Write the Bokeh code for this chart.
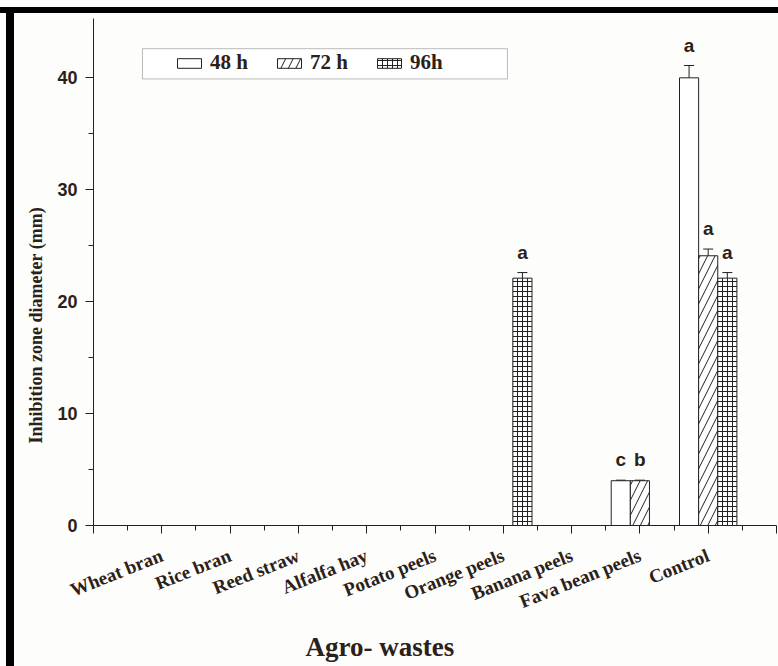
from bokeh.plotting import figure
from bokeh.models import (ColumnDataSource, FixedTicker, Whisker, TeeHead, LabelSet,
                          Legend, LegendItem, BoxAnnotation, Range1d, Title, Div)
from bokeh.layouts import column, row
from bokeh.core.properties import value
from bokeh.embed import file_html
from bokeh.resources import INLINE

# ---------------- data ----------------
categories = ["Wheat bran", "Rice bran", "Reed straw", "Alfalfa hay", "Potato peels",
              "Orange peels", "Banana peels", "Fava bean peels", "Control"]
series = ["48 h", "72 h", "96h"]
v48 = [0, 0, 0, 0, 0, 0, 0, 4.0, 40.0]
v72 = [0, 0, 0, 0, 0, 0, 0, 4.0, 24.1]
v96 = [0, 0, 0, 0, 0, 22.1, 0, 0, 22.1]
e48 = [0, 0, 0, 0, 0, 0, 0, 0.05, 1.1]
e72 = [0, 0, 0, 0, 0, 0, 0, 0.05, 0.6]
e96 = [0, 0, 0, 0, 0, 0.5, 0, 0, 0.5]
l48 = ["", "", "", "", "", "", "", "c", "a"]
l72 = ["", "", "", "", "", "", "", "b", "a"]
l96 = ["", "", "", "", "", "a", "", "", "a"]
y_ticks = [0, 10, 20, 30, 40]
y_minor = [5, 15, 25, 35]
x_title = "Agro- wastes"
y_title = "Inhibition zone diameter (mm)"

# ---------------- style ----------------
BG = "#fdfdfb"
TXT = "#2b2118"
LINE = "#222222"
BAR_W = 0.28
offsets = [-BAR_W, 0.0, BAR_W]

p = figure(width=764, height=653, output_backend="svg", toolbar_location=None,
           x_range=Range1d(0, len(categories) + 1), y_range=Range1d(0, 45.3),
           min_border_left=79, min_border_right=2, min_border_top=5, min_border_bottom=141,
           background_fill_color=BG, border_fill_color=BG, margin=0)
p.grid.visible = False
p.outline_line_alpha = 0

vals = [v48, v72, v96]
errs = [e48, e72, e96]
labs = [l48, l72, l96]
hatches = [None, "/", "+"]
hscale = [12, 15, 5]

renderers = []
for k in range(3):
    xs = [i + 1 + offsets[k] for i in range(len(categories))]
    src = ColumnDataSource(dict(x=xs, top=vals[k]))
    kw = dict(fill_color="white", line_color=LINE, line_width=1)
    if hatches[k]:
        kw.update(hatch_pattern=hatches[k], hatch_scale=hscale[k], hatch_weight=1,
                  hatch_color=LINE)
    r = p.vbar(x="x", top="top", width=BAR_W, source=src, **kw)
    renderers.append(r)

    idx = [i for i in range(len(categories)) if vals[k][i] > 0]
    esrc = ColumnDataSource(dict(
        x=[xs[i] for i in idx],
        upper=[vals[k][i] + errs[k][i] for i in idx],
        lower=[vals[k][i] - errs[k][i] for i in idx],
        lab=[labs[k][i] for i in idx]))
    w = Whisker(source=esrc, base="x", upper="upper", lower="lower",
                line_color=LINE, line_width=1,
                upper_head=TeeHead(size=10, line_color=LINE, line_width=1),
                lower_head=TeeHead(size=10, line_color=LINE, line_width=1))
    p.add_layout(w)
    ls = LabelSet(source=esrc, x="x", y="upper", text="lab", y_offset=14,
                  text_align="center", text_baseline="alphabetic",
                  text_font=value("Liberation Sans"), text_font_style="bold",
                  text_font_size="19px", text_color=TXT)
    p.add_layout(ls)

# ---------------- axes ----------------
xa = p.xaxis[0]
xa.ticker = FixedTicker(ticks=list(range(0, len(categories) + 2)),
                        minor_ticks=[i + 0.5 for i in range(len(categories) + 1)])
ov = {i + 1: c for i, c in enumerate(categories)}
ov[0] = ""
ov[len(categories) + 1] = ""
xa.major_label_overrides = ov
xa.major_label_orientation = 0.38
xa.major_label_text_font = "Liberation Serif"
xa.major_label_text_font_style = "bold"
xa.major_label_text_font_size = "19px"
xa.major_label_text_color = TXT
xa.major_label_standoff = 21

ya = p.yaxis[0]
ya.ticker = FixedTicker(ticks=y_ticks, minor_ticks=y_minor)
ya.major_label_text_font = "Liberation Sans"
ya.major_label_text_font_style = "bold"
ya.major_label_text_font_size = "18px"
ya.major_label_text_color = TXT
ya.major_label_standoff = 8

for ax in (xa, ya):
    ax.axis_line_color = LINE
    ax.major_tick_line_color = LINE
    ax.minor_tick_line_color = LINE
    ax.major_tick_out = 8
    ax.major_tick_in = 0
    ax.minor_tick_out = 5
    ax.minor_tick_in = 0

p.add_layout(Title(text=y_title, align="left", offset=82, standoff=17,
                   text_font="Liberation Serif", text_font_style="bold",
                   text_font_size="18px", text_color=TXT), "left")
p.add_layout(Title(text=x_title, align="left", offset=212, standoff=10,
                   text_font="Liberation Serif", text_font_style="bold",
                   text_font_size="27px", text_color=TXT), "below")

# ---------------- legend ----------------
legend = Legend(items=[LegendItem(label=s, renderers=[r]) for s, r in zip(series, renderers)],
                orientation="horizontal", location=(81, 450), padding=0, margin=0,
                spacing=8, glyph_width=30, glyph_height=12, label_standoff=6, label_width=56,
                label_text_font="Liberation Serif", label_text_font_style="bold",
                label_text_font_size="21px", label_text_color=TXT,
                border_line_alpha=0, background_fill_alpha=0)
p.add_layout(legend)
p.add_layout(BoxAnnotation(left=0.717, right=6.06, bottom=39.9, top=42.6,
                           fill_color="white", fill_alpha=1.0,
                           line_color=LINE, line_width=1, level="underlay"))

# ---------------- page frame (thick black border, top and left) ----------------
top_pad = Div(text="", width=778, height=7, margin=0, styles={"background-color": BG})
top_bar = Div(text="", width=778, height=6, margin=0, styles={"background-color": "black"})
left_pad = Div(text="", width=6, height=653, margin=0, styles={"background-color": BG})
left_bar = Div(text="", width=8, height=653, margin=0, styles={"background-color": "black"})
page = column(top_pad, top_bar, row(left_pad, left_bar, p, spacing=0, margin=0),
              spacing=0, margin=0)

open("out.html", "w").write(file_html(page, INLINE))
